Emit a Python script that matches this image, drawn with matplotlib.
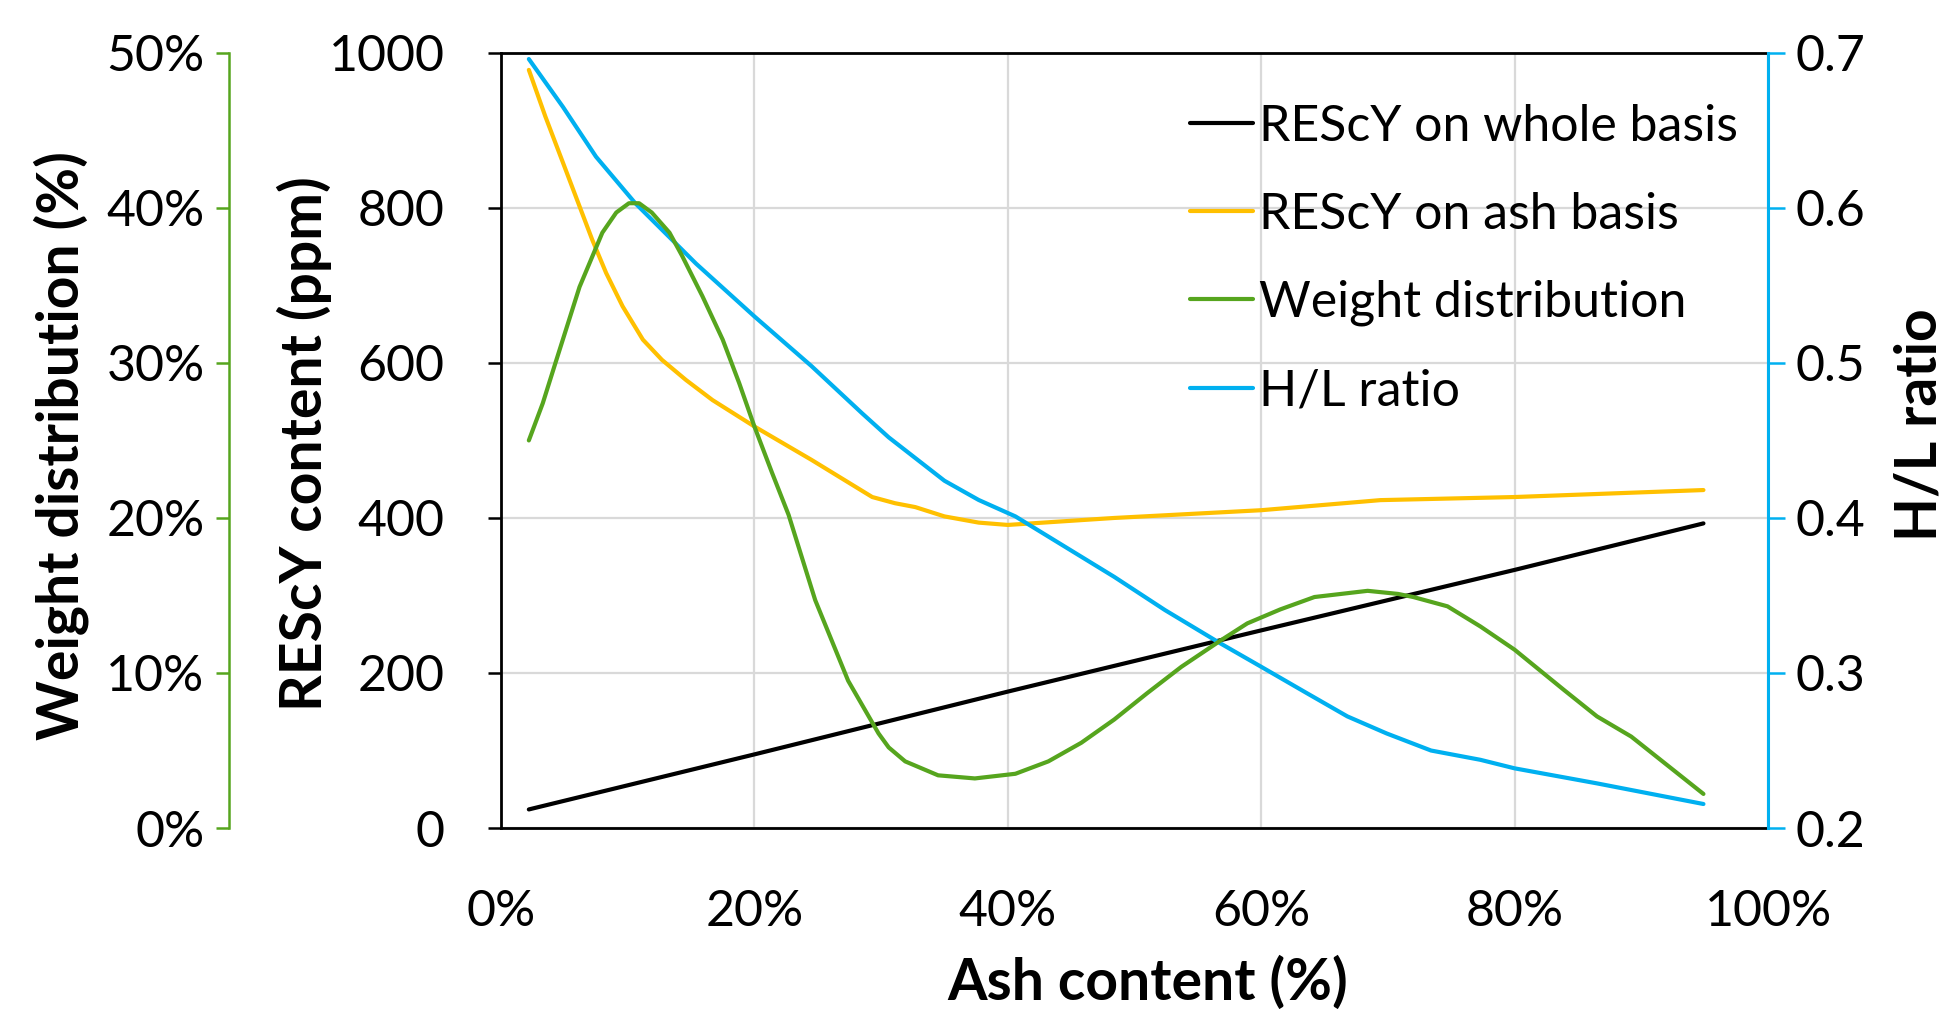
import matplotlib
matplotlib.use("Agg")
import matplotlib.pyplot as plt
from matplotlib.ticker import FuncFormatter

plt.rcParams['font.family'] = ['Lato', 'DejaVu Sans']

# values (ash content in %)
ash_whole = [2.2, 20, 40, 60, 80, 94.9]
rescy_whole = [24, 95, 176, 255, 333, 393]

ash_basis_x = [2.2, 3.5, 4.9, 6.2, 7.2, 8.3, 9.6, 11.2, 12.7, 14.6, 16.7, 20,
               24.5, 28, 29.3, 31.1, 32.7, 35, 37.7, 40, 48.4, 60, 69.4, 80,
               94.9]
rescy_ash = [978, 918, 858, 802, 759, 716, 673, 630, 604, 578, 552, 518,
             475, 440, 427, 419, 414, 402, 394, 391, 400, 410, 423, 427, 436]

weight_x = [2.2, 3.3, 4.3, 6.2, 8.0, 9.1, 10.1, 10.9, 11.9, 13.3, 14.3, 15.9,
            17.5, 18.8, 20, 21.4, 22.7, 24.8, 27.4, 29.8, 30.6, 31.9, 34.5,
            37.4, 40.6, 43.2, 45.8, 48.4, 51, 53.7, 56.8, 58.9, 61.5, 64.2,
            68.4, 70.8, 72, 74.7, 77.3, 80, 83.9, 86.5, 89.2, 94.9]
weight_pct = [25.0, 27.4, 30.0, 34.9, 38.4, 39.7, 40.3, 40.3, 39.7, 38.4,
              36.9, 34.3, 31.5, 28.7, 25.9, 22.9, 20.2, 14.7, 9.5, 6.1, 5.2,
              4.3, 3.4, 3.2, 3.5, 4.3, 5.5, 7.0, 8.7, 10.4, 12.1, 13.2, 14.1,
              14.9, 15.3, 15.1, 14.9, 14.3, 13.0, 11.5, 8.9, 7.2, 5.9, 2.2]

hl_x = [2.2, 4.9, 7.5, 10.6, 15.4, 20, 24.5, 28.5, 30.6, 32.8, 35, 37.7,
        40.6, 44.5, 48.4, 52.4, 56.8, 60, 63.6, 66.8, 69.9, 73.4, 77.3, 80,
        86.5, 94.9]
hl_ratio = [0.696, 0.665, 0.633, 0.603, 0.564, 0.530, 0.498, 0.4675, 0.452,
            0.438, 0.424, 0.4116, 0.401, 0.3815, 0.362, 0.3406, 0.319, 0.304,
            0.287, 0.272, 0.261, 0.250, 0.244, 0.2385, 0.2288, 0.2155]

x_ticks = [0, 20, 40, 60, 80, 100]
ppm_ticks = [0, 200, 400, 600, 800, 1000]
weight_ticks = [0, 10, 20, 30, 40, 50]
hl_ticks = [0.2, 0.3, 0.4, 0.5, 0.6, 0.7]

BLACK = '#000000'
YELLOW = '#FFC000'
GREEN = '#56A51E'
BLUE = '#00B0F0'
GRID = '#D9D9D9'
TICK = 36
LABEL = 41
LW = 3.0

fig = plt.figure(figsize=(19.44, 10.16), dpi=100)
ax = fig.add_axes([0.2577, 0.185, 0.9095 - 0.2577, 0.948 - 0.185])
ax_hl = ax.twinx()
ax_w = ax.twinx()

l1, = ax.plot(ash_whole, rescy_whole, color=BLACK, lw=LW,
              solid_capstyle='round', solid_joinstyle='round',
              label='REScY on whole basis')
l2, = ax.plot(ash_basis_x, rescy_ash, color=YELLOW, lw=LW,
              solid_capstyle='round', solid_joinstyle='round',
              label='REScY on ash basis')
l4, = ax_hl.plot(hl_x, hl_ratio, color=BLUE, lw=LW,
                 solid_capstyle='round', solid_joinstyle='round',
                 label='H/L ratio')
l3, = ax_w.plot(weight_x, weight_pct, color=GREEN, lw=LW,
                solid_capstyle='round', solid_joinstyle='round',
                label='Weight distribution')

# main axes
ax.set_xlim(0, 100)
ax.set_ylim(0, 1000)
ax.set_xticks(x_ticks)
ax.set_yticks(ppm_ticks)
ax.xaxis.set_major_formatter(FuncFormatter(lambda v, p: f'{v:.0f}%'))
ax.grid(True, color=GRID, lw=1.6)
ax.set_axisbelow(True)
for s in ['left', 'top', 'bottom']:
    ax.spines[s].set_color(BLACK)
    ax.spines[s].set_linewidth(2.0)
ax.spines['right'].set_visible(False)
ax.tick_params(axis='y', direction='out', length=9.5, width=1.8,
               labelsize=TICK, pad=31)
ax.tick_params(axis='x', length=0, labelsize=TICK, pad=44)
ax.set_xlabel('Ash content (%)', fontsize=LABEL, fontweight='bold',
              va='center')
ax.xaxis.set_label_coords(0.51, -0.199)
ax.set_ylabel('REScY content (ppm)', fontsize=LABEL, fontweight='bold',
              va='center', ha='center')
ax.yaxis.set_label_coords(-0.1555, 0.496)

# H/L axis on the right
ax_hl.set_ylim(0.2, 0.7)
ax_hl.set_yticks(hl_ticks)
ax_hl.yaxis.set_major_formatter(FuncFormatter(lambda v, p: f'{v:.1f}'))
for s in ['left', 'top', 'bottom']:
    ax_hl.spines[s].set_visible(False)
ax_hl.spines['right'].set_color(BLUE)
ax_hl.spines['right'].set_linewidth(2.2)
ax_hl.tick_params(axis='y', direction='out', length=12, width=1.8,
                  color=BLUE, labelsize=TICK, pad=8)
ax_hl.set_ylabel('H/L ratio', fontsize=LABEL, fontweight='bold',
                 rotation=90, va='center', ha='center')
ax_hl.yaxis.set_label_coords(1.12, 0.52)

# weight distribution axis, offset to the far left
ax_w.set_ylim(0, 50)
ax_w.set_yticks(weight_ticks)
ax_w.yaxis.set_major_formatter(FuncFormatter(lambda v, p: f'{v:.0f}%'))
ax_w.yaxis.set_ticks_position('left')
ax_w.yaxis.set_label_position('left')
for s in ['right', 'top', 'bottom']:
    ax_w.spines[s].set_visible(False)
ax_w.spines['left'].set_visible(True)
ax_w.spines['left'].set_position(('axes', -0.2147))
ax_w.spines['left'].set_color(GREEN)
ax_w.spines['left'].set_linewidth(1.8)
ax_w.tick_params(axis='y', direction='out', length=9.5, width=1.8,
                 color=GREEN, labelsize=TICK, pad=8)
ax_w.set_ylabel('Weight distribution (%)', fontsize=LABEL, fontweight='bold',
                va='center', ha='center')
ax_w.yaxis.set_label_coords(-0.347, 0.493)

ax_w.legend([l1, l2, l3, l4], [h.get_label() for h in [l1, l2, l3, l4]],
            loc='upper left', bbox_to_anchor=(0.544, 0.934), frameon=False,
            fontsize=TICK, handlelength=1.25, handletextpad=0.12,
            labelspacing=0.84, borderpad=0, borderaxespad=0)

fig.savefig('out.png', dpi=100)
